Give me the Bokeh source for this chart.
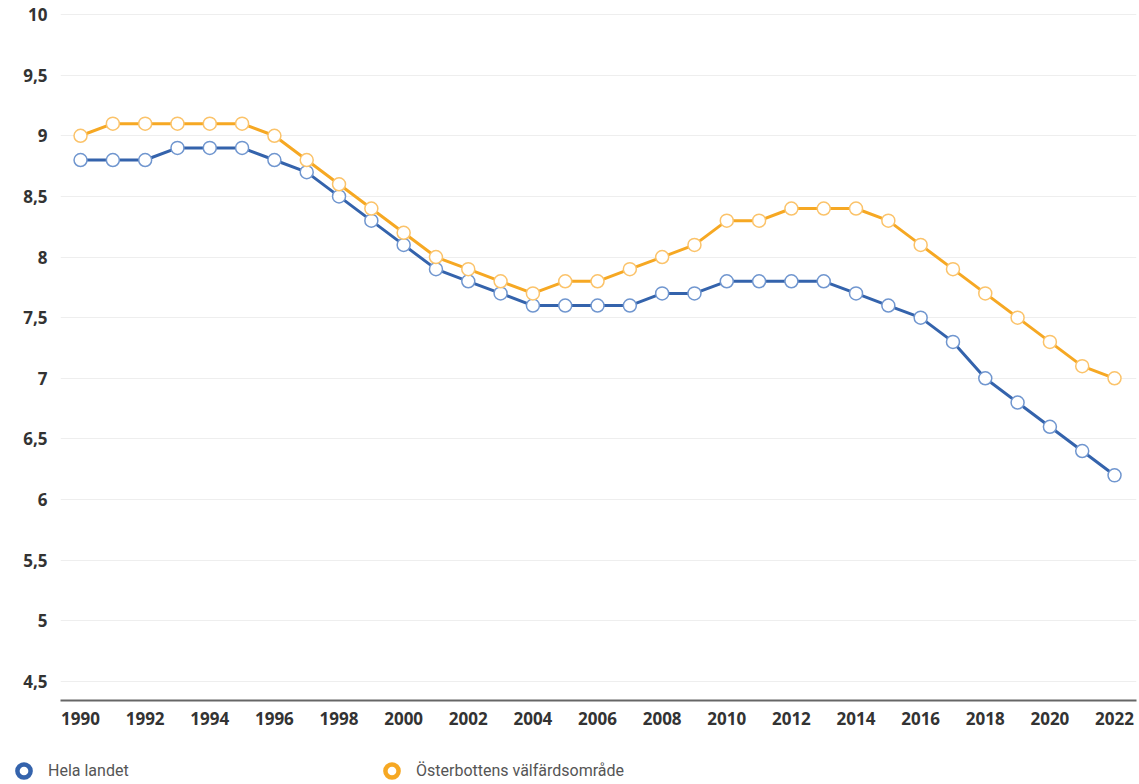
from bokeh.plotting import figure
from bokeh.layouts import column, row
from bokeh.models import ColumnDataSource, Legend, LegendItem, FixedTicker, Range1d
from bokeh.embed import file_html
from bokeh.resources import INLINE

years = list(range(1990, 2023))
hela_landet = [8.8, 8.8, 8.8, 8.9, 8.9, 8.9, 8.8, 8.7, 8.5, 8.3, 8.1, 7.9, 7.8, 7.7,
               7.6, 7.6, 7.6, 7.6, 7.7, 7.7, 7.8, 7.8, 7.8, 7.8, 7.7, 7.6, 7.5, 7.3,
               7.0, 6.8, 6.6, 6.4, 6.2]
osterbotten = [9.0, 9.1, 9.1, 9.1, 9.1, 9.1, 9.0, 8.8, 8.6, 8.4, 8.2, 8.0, 7.9, 7.8,
               7.7, 7.8, 7.8, 7.9, 8.0, 8.1, 8.3, 8.3, 8.4, 8.4, 8.4, 8.3, 8.1, 7.9,
               7.7, 7.5, 7.3, 7.1, 7.0]
x_ticks = list(range(1990, 2023, 2))
y_ticks = [4.5, 5, 5.5, 6, 6.5, 7, 7.5, 8, 8.5, 9, 9.5, 10]
series_names = ["Hela landet", "Österbottens välfärdsområde"]

BLUE = "#3463ac"
BLUE_LIGHT = "#7096cf"
ORANGE = "#f6a823"
ORANGE_LIGHT = "#fbc36a"

p = figure(width=1139, height=728, output_backend="svg", toolbar_location=None,
           x_range=Range1d(1989.38, 2022.68), y_range=Range1d(4.343, 10.0165),
           min_border_left=60, min_border_right=3, min_border_top=12, min_border_bottom=28)
p.outline_line_color = None
p.background_fill_color = "white"
p.border_fill_color = "white"

src = ColumnDataSource(dict(x=years, a=hela_landet, b=osterbotten))
p.line("x", "a", source=src, line_color=BLUE, line_width=3)
p.scatter("x", "a", source=src, size=13, fill_color="white", line_color=BLUE_LIGHT, line_width=1.5)
p.line("x", "b", source=src, line_color=ORANGE, line_width=3)
p.scatter("x", "b", source=src, size=13, fill_color="white", line_color=ORANGE_LIGHT, line_width=1.5)

p.xaxis.ticker = FixedTicker(ticks=x_ticks)
p.yaxis.ticker = FixedTicker(ticks=y_ticks)
p.yaxis.major_label_overrides = {v: (str(v).replace(".", ",") if v != int(v) else str(int(v))) for v in y_ticks}
p.yaxis.axis_line_color = None
p.yaxis.major_tick_line_color = None
p.yaxis.minor_tick_line_color = None
p.yaxis.major_label_standoff = 7
p.xaxis.axis_line_color = "#666666"
p.xaxis.axis_line_width = 2
p.xaxis.major_tick_line_color = None
p.xaxis.minor_tick_line_color = None
p.xaxis.major_label_standoff = 5
for ax in (p.xaxis, p.yaxis):
    ax.major_label_text_font = "Open Sans"
    ax.major_label_text_font_style = "bold"
    ax.major_label_text_font_size = "17px"
    ax.major_label_text_color = "#333333"
p.xgrid.grid_line_color = None
p.ygrid.grid_line_color = "#eeeeee"
p.ygrid.grid_line_width = 1

# legend strip below the chart
leg = figure(width=1139, height=56, output_backend="svg", toolbar_location=None,
             x_axis_type=None, y_axis_type=None, x_range=Range1d(0, 1), y_range=Range1d(0, 1),
             min_border=0, min_border_left=0, min_border_right=0, min_border_top=0, min_border_bottom=0)
leg.outline_line_color = None
leg.xgrid.visible = False
leg.ygrid.visible = False
dummy = ColumnDataSource(dict(x=[float("nan")], y=[float("nan")]))
lg1 = leg.scatter("x", "y", source=dummy, fill_color="white", line_color=BLUE, line_width=4.5)
lg2 = leg.scatter("x", "y", source=dummy, fill_color="white", line_color=ORANGE, line_width=4.5)

legend = Legend(items=[LegendItem(label=series_names[0], renderers=[lg1]),
                       LegendItem(label=series_names[1], renderers=[lg2])],
                orientation="horizontal", location=(7, -3))
legend.border_line_color = None
legend.background_fill_alpha = 0
legend.label_text_font = "Roboto"
legend.label_text_font_size = "16px"
legend.label_text_color = "#555555"
legend.glyph_width = 33
legend.glyph_height = 33
legend.label_standoff = 8
legend.label_width = 327
legend.label_height = 33
legend.spacing = 0
legend.padding = 0
legend.margin = 0
leg.add_layout(legend, "center")

layout = column(p, row(leg, spacing=0), spacing=0)
open("out.html", "w").write(file_html(layout, INLINE))
